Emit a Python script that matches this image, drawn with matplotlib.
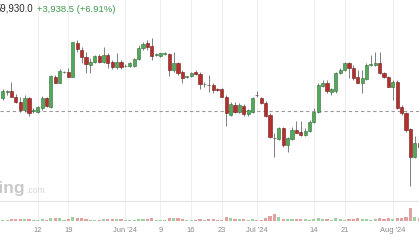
import matplotlib
matplotlib.use("Agg")
import matplotlib.pyplot as plt
import numpy as np
import pandas as pd

# ---- data (BTC/USD daily, thousands USD) ----
start_date = "2024-05-04"
opens = [62.71, 63.65, 63.80, 62.91, 62.13, 60.84, 62.76, 60.76, 60.57, 61.11,
         62.67, 61.26, 66.03, 65.10, 66.72, 66.81, 66.03, 71.34, 70.20, 69.15,
         67.86, 68.37, 69.26, 68.37, 69.42, 68.37, 67.50, 68.37, 67.66, 67.70,
         67.70, 68.75, 70.47, 71.25, 70.82, 69.47, 69.26, 69.62, 69.58, 67.08,
         68.22, 66.81, 65.99, 66.14, 66.72, 66.41, 64.85, 64.79, 64.74, 64.07,
         64.07, 62.91, 60.06, 61.62, 60.57, 61.46, 60.22, 60.57, 63.18, 62.67,
         61.93, 60.06, 56.47, 56.27, 57.98, 55.38, 56.27, 57.72, 57.45, 56.94,
         57.61, 59.01, 60.57, 64.58, 65.01, 63.70, 63.85, 66.57, 67.08, 68.13,
         67.35, 65.94, 65.10, 65.63, 67.86, 67.86, 68.22, 66.66, 65.94, 64.38,
         65.25, 61.26, 60.33, 57.83, 53.56, 55.69]
highs = [64.12, 63.96, 65.25, 63.29, 62.91, 63.18, 62.91, 61.11, 61.46, 63.02,
         62.91, 66.30, 66.30, 67.19, 66.85, 67.35, 71.49, 71.76, 70.67, 69.93,
         68.91, 69.42, 69.58, 70.71, 69.73, 68.64, 69.73, 68.64, 67.97, 68.37,
         68.91, 70.98, 71.49, 71.76, 72.03, 69.69, 69.78, 69.93, 69.69, 69.93,
         68.37, 67.08, 66.14, 66.77, 67.08, 66.72, 65.21, 66.30, 65.01, 64.23,
         64.23, 63.18, 62.13, 62.13, 61.89, 61.78, 61.00, 62.87, 63.80, 62.91,
         62.24, 60.33, 57.20, 58.23, 58.23, 56.63, 58.23, 59.17, 59.17, 57.98,
         59.28, 61.11, 65.01, 65.52, 65.52, 64.27, 66.81, 67.35, 68.37, 68.37,
         67.86, 67.08, 67.08, 68.13, 69.42, 69.93, 69.93, 66.81, 66.14, 65.52,
         65.52, 61.62, 60.53, 58.03, 56.78, 56.16]
lows = [62.40, 63.18, 62.87, 61.98, 60.57, 60.57, 59.90, 60.33, 60.33, 60.84,
        61.26, 61.11, 65.01, 65.01, 66.61, 65.94, 65.94, 69.93, 68.17, 66.66,
        66.57, 68.22, 68.13, 68.13, 67.35, 67.19, 67.19, 67.19, 67.50, 67.50,
        67.59, 68.64, 70.20, 70.20, 68.64, 69.31, 69.15, 69.42, 66.14, 66.81,
        66.30, 65.01, 65.88, 66.03, 66.30, 64.12, 64.47, 63.70, 63.45, 63.85,
        62.82, 58.34, 59.90, 60.33, 60.33, 59.95, 59.95, 60.42, 62.87, 61.78,
        59.75, 56.43, 53.56, 56.16, 55.11, 54.33, 56.16, 57.20, 56.78, 56.78,
        57.45, 58.77, 60.42, 64.47, 63.54, 63.18, 63.45, 66.46, 66.92, 65.79,
        65.52, 65.01, 63.45, 65.52, 67.70, 67.70, 66.46, 65.83, 64.38, 62.40,
        61.00, 60.06, 57.45, 48.98, 53.35, 54.60]
closes = [63.80, 63.73, 62.91, 62.13, 60.84, 62.76, 60.42, 60.84, 61.26, 62.67,
          61.46, 66.14, 65.10, 66.97, 66.77, 66.03, 71.40, 70.31, 69.15, 67.97,
          68.37, 69.26, 68.37, 69.42, 68.22, 67.59, 68.37, 67.50, 67.70, 68.13,
          68.75, 70.47, 71.14, 70.71, 69.26, 69.53, 69.69, 69.69, 67.08, 68.22,
          66.57, 65.79, 66.03, 66.66, 66.41, 64.90, 64.90, 64.69, 63.96, 64.01,
          62.91, 60.33, 61.78, 60.57, 61.62, 60.22, 60.84, 62.67, 63.13, 61.89,
          59.90, 56.58, 56.43, 57.98, 55.38, 56.43, 57.72, 57.30, 56.94, 57.61,
          59.01, 60.57, 64.74, 65.01, 63.85, 64.07, 66.66, 67.08, 68.13, 67.35,
          65.79, 65.10, 65.79, 67.86, 67.91, 68.22, 66.57, 66.03, 64.47, 65.25,
          61.11, 60.33, 57.72, 53.56, 55.65, 55.07]
volumes = [15, 15, 25, 25, 25, 25, 25, 10, 15, 25,
           15, 35, 30, 30, 10, 20, 45, 35, 30, 25,
           15, 10, 15, 20, 25, 20, 20, 20, 10, 10,
           15, 25, 20, 20, 30, 15, 10, 10, 30, 30,
           30, 25, 10, 10, 15, 25, 15, 20, 25, 10,
           15, 45, 30, 25, 20, 25, 15, 20, 10, 15,
           30, 50, 70, 40, 25, 20, 25, 20, 20, 20,
           15, 25, 30, 25, 25, 15, 30, 20, 15, 25,
           25, 30, 25, 25, 15, 20, 30, 25, 30, 25,
           35, 30, 40, 130, 45, 30]
ref_level = 60.73
tick_dates = ["2024-05-12", "2024-05-19", "2024-06-01", "2024-06-09", "2024-06-16",
              "2024-06-23", "2024-07-01", "2024-07-14", "2024-07-21", "2024-08-01"]
tick_labels = ["12", "19", "Jun '24", "9", "16", "23", "Jul '24", "14", "21", "Aug '24"]
last_price = "59,930.0"
change_text = "+3,938.5 (+6.91%)"

# ---- figure ----
W, H = 419, 240
fig = plt.figure(figsize=(W / 100, H / 100), dpi=100)
fig.patch.set_facecolor("white")
plt.rcParams["font.family"] = ["Liberation Sans", "DejaVu Sans"]

dates = pd.date_range(start_date, periods=len(opens), freq="D")
idx = np.arange(len(opens))
tick_pos = [dates.get_loc(pd.Timestamp(d)) for d in tick_dates]

up_col, up_edge = "#52a95b", "#2f6e35"
dn_col, dn_edge = "#b3302d", "#6e1a18"
wick_col = "#6a6a6a"

spacing = 4.383
x0 = 2.7
xlim = (-x0 / spacing, (W - x0) / spacing)

ax = fig.add_axes([0, 39 / H, 1, 201 / H])
ax.set_xlim(*xlim)
ax.set_ylim(46.644, 78.0)
for s in ax.spines.values():
    s.set_visible(False)
ax.set_xticks(tick_pos)
ax.set_xticklabels([])
ax.tick_params(length=0)
ax.set_yticks([])
ax.grid(axis="x", color="#efefef", lw=0.7)
ax.set_axisbelow(True)

o = np.array(opens); c = np.array(closes); hi = np.array(highs); lo = np.array(lows)
up = c >= o
ax.vlines(idx, lo, hi, color=wick_col, lw=0.6, zorder=2)
bottoms = np.minimum(o, c)
heights = np.maximum(np.abs(c - o), 0.12)
ax.bar(idx[up], heights[up], bottom=bottoms[up], width=0.72,
       color=up_col, edgecolor=up_edge, linewidth=0.4, zorder=3)
ax.bar(idx[~up], heights[~up], bottom=bottoms[~up], width=0.72,
       color=dn_col, edgecolor=dn_edge, linewidth=0.4, zorder=3)
ax.axhline(ref_level, color="#9a9a9a", lw=0.8, dashes=(3, 2.5), zorder=1)

# volume panel
axv = fig.add_axes([0, 19 / H, 1, 20 / H])
axv.set_xlim(*xlim)
axv.set_ylim(0, 200)
for s in axv.spines.values():
    s.set_visible(False)
axv.spines["top"].set_visible(True)
axv.spines["top"].set_color("#e2e2e2")
axv.spines["top"].set_linewidth(0.8)
axv.set_yticks([])
axv.set_xticks(tick_pos)
axv.set_xticklabels(tick_labels, fontsize=5.4, color="#8a8a8a")
axv.tick_params(axis="x", length=0, pad=4.2)
axv.grid(axis="x", color="#efefef", lw=0.7)
axv.set_axisbelow(True)
vol = np.array(volumes)
axv.bar(idx[up], vol[up], width=0.72, color="#9fd0a2", linewidth=0)
axv.bar(idx[~up], vol[~up], width=0.72, color="#e2a09e", linewidth=0)

# header texts
fig.text(33 / W, 1 - 11.7 / H, last_price, ha="right", va="baseline",
         fontsize=6.9, color="#2b2b2b")
fig.text(36.7 / W, 1 - 11.7 / H, change_text, ha="left", va="baseline",
         fontsize=6.8, color="#3d9a4c")

# watermark
fig.text(25.5 / W, 1 - 192.7 / H, "investing", ha="right", va="baseline",
         fontsize=12.5, fontweight="bold", color="#c9c9c9")
fig.text(26 / W, 1 - 192.7 / H, ".com", ha="left", va="baseline",
         fontsize=6.2, color="#d6d6d6")

fig.savefig("out.png", dpi=100, facecolor="white")
